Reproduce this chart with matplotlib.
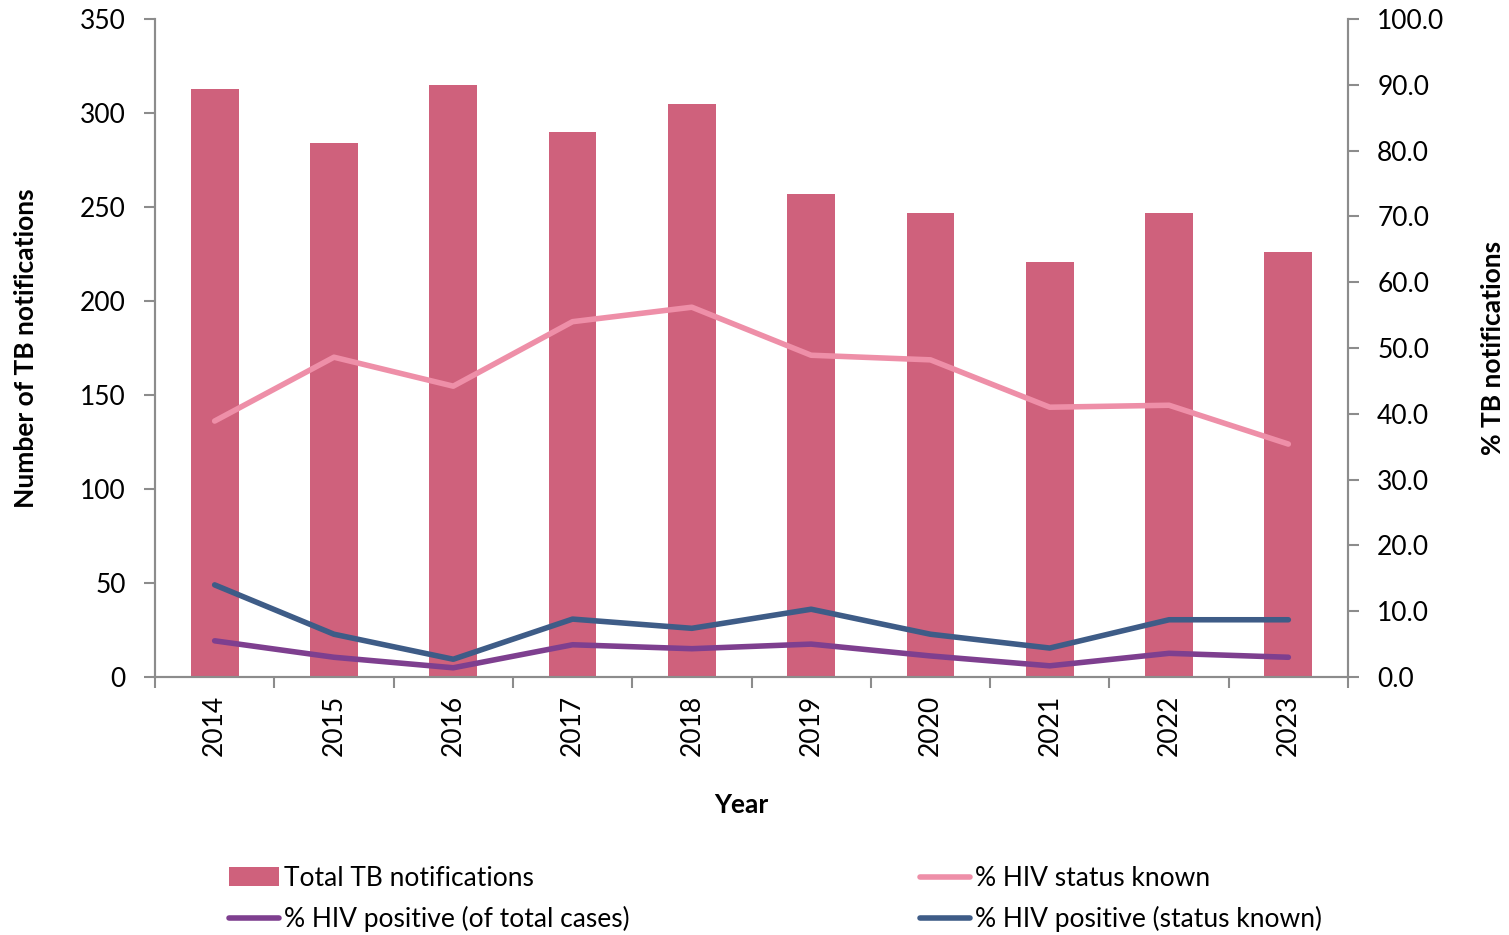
import matplotlib
matplotlib.use("Agg")
import matplotlib.pyplot as plt
import numpy as np
from matplotlib.ticker import MultipleLocator, FixedLocator, FormatStrFormatter

plt.rcParams['font.family'] = ['Lato', 'DejaVu Sans']

years = ['2014', '2015', '2016', '2017', '2018', '2019', '2020', '2021', '2022', '2023']
total_tb = [313, 284, 315, 290, 305, 257, 247, 221, 247, 226]
pct_status_known = [38.9, 48.6, 44.2, 54.0, 56.2, 48.9, 48.2, 41.0, 41.3, 35.4]
pct_pos_total = [5.5, 3.0, 1.4, 4.9, 4.3, 5.0, 3.2, 1.7, 3.6, 3.0]
pct_pos_known = [14.0, 6.5, 2.7, 8.8, 7.4, 10.3, 6.5, 4.4, 8.7, 8.7]

bar_color = '#CF617C'
pink = '#EE8FA8'
purple = '#7E3F8F'
blue = '#3E5C87'
axis_gray = '#8C8C8C'
FS = 19

fig = plt.figure(figsize=(15.09, 9.35), dpi=100)
ax = fig.add_axes([155/1509, 1-677/935, (1348-155)/1509, (677-19)/935])
ax2 = ax.twinx()

x = np.arange(len(years))
b = ax.bar(x, total_tb, width=0.40, color=bar_color, label='Total TB notifications', zorder=2)
l1, = ax2.plot(x, pct_status_known, color=pink, lw=4, label='% HIV status known', solid_capstyle='round')
l2, = ax2.plot(x, pct_pos_total, color=purple, lw=4, label='% HIV positive (of total cases)', solid_capstyle='round')
l3, = ax2.plot(x, pct_pos_known, color=blue, lw=4, label='% HIV positive (status known)', solid_capstyle='round')

ax.set_xlim(-0.5, len(years) - 0.5)
ax.set_ylim(0, 350)
ax.yaxis.set_major_locator(MultipleLocator(50))
ax2.set_ylim(0, 100)
ax2.yaxis.set_major_locator(MultipleLocator(10))
ax2.yaxis.set_major_formatter(FormatStrFormatter('%.1f'))

ax.set_xticks(x)
ax.set_xticklabels(years, rotation=90)
ax.xaxis.set_minor_locator(FixedLocator(np.arange(-0.5, len(years), 1.0)))
ax.tick_params(axis='x', which='major', length=0, labelsize=FS, pad=13)
ax.tick_params(axis='x', which='minor', length=8, width=1.5, color=axis_gray)
ax.tick_params(axis='y', length=8, width=1.5, color=axis_gray, labelsize=FS, pad=13)
ax2.tick_params(axis='y', length=8, width=1.5, color=axis_gray, labelsize=FS, pad=13)

for a in (ax, ax2):
    a.spines['top'].set_visible(False)
    for s in ('left', 'right', 'bottom'):
        a.spines[s].set_color(axis_gray)
        a.spines[s].set_linewidth(1.5)
ax2.set_zorder(ax.get_zorder() + 1)
ax2.patch.set_visible(False)

ax.set_xlabel('Year', fontsize=FS, fontweight='bold')
ax.xaxis.set_label_coords((741 - 155) / (1348 - 155), -(793 - 677) / (677 - 19))
ax.set_ylabel('Number of TB notifications', fontsize=FS, fontweight='bold', labelpad=30)
ax2.set_ylabel('% TB notifications', fontsize=FS, fontweight='bold', labelpad=26)

handles = [b, l2, l1, l3]
labels = ['Total TB notifications', '% HIV positive (of total cases)',
          '% HIV status known', '% HIV positive (status known)']
fig.legend(handles, labels, ncol=2, loc='center left', bbox_to_anchor=(205/1509, 1 - 899/935),
           frameon=False, fontsize=FS, columnspacing=11.0, handlelength=1.9,
           handletextpad=0.2, labelspacing=0.58)

fig.savefig('out.png', dpi=100)
